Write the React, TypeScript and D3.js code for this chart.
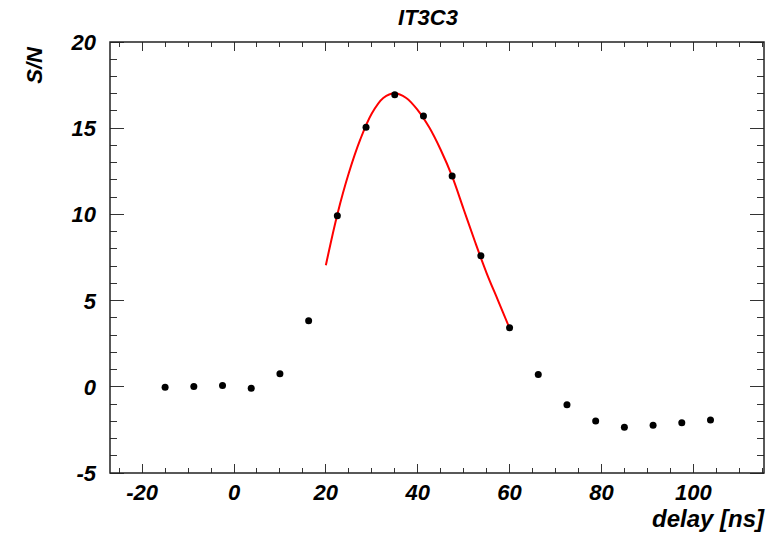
import { useEffect, useRef } from "react";
import * as d3 from "d3";

// measured points
const delays = [-15, -8.75, -2.5, 3.75, 10, 16.25, 22.5, 28.75, 35, 41.25, 47.5, 53.75, 60, 66.25, 72.5, 78.75, 85, 91.25, 97.5, 103.75];
const snValues = [-0.03, 0.02, 0.07, -0.09, 0.76, 3.83, 9.92, 15.05, 16.94, 15.71, 12.23, 7.6, 3.43, 0.72, -1.04, -1.98, -2.35, -2.23, -2.08, -1.93];

// fit curve samples
const fitX = [20, 22.5, 25, 27.5, 30, 32.5, 35, 37.5, 40, 42.5, 45, 47.5, 50, 52.5, 55, 57.5, 60];
const fitY = [7.05, 10.0, 12.4, 14.35, 15.85, 16.75, 17.03, 16.75, 16.05, 15.05, 13.75, 12.2, 10.3, 8.4, 6.6, 5.0, 3.4];

const xTicks = [-20, 0, 20, 40, 60, 80, 100];
const yTicks = [-5, 0, 5, 10, 15, 20];

export default function App() {
  const ref = useRef<SVGSVGElement>(null);

  useEffect(() => {
    const svg = d3.select(ref.current);
    svg.selectAll("*").remove();

    const width = 778;
    const height = 534;
    const m = { left: 110, right: 14, top: 42, bottom: 61 };
    const font = "'Liberation Sans', Arial, Helvetica, sans-serif";

    const x = d3.scaleLinear().domain([-27, 115.4]).range([m.left, width - m.right]);
    const y = d3.scaleLinear().domain([-5, 20]).range([height - m.bottom, m.top]);

    const x0 = x.range()[0], x1 = x.range()[1];
    const y0 = y.range()[0], y1 = y.range()[1];

    svg.append("rect").attr("width", width).attr("height", height).attr("fill", "#fff");

    // ticks
    const xMinor = d3.range(-25, 116, 5);
    const yMinor = d3.range(-5, 20.01, 1);
    const g = svg.append("g").attr("stroke", "#333").attr("stroke-width", 1).attr("shape-rendering", "crispEdges");

    xMinor.forEach(v => {
      const major = v % 20 === 0;
      const len = major ? 9 : 5;
      g.append("line").attr("x1", x(v)).attr("x2", x(v)).attr("y1", y0).attr("y2", y0 - len);
      g.append("line").attr("x1", x(v)).attr("x2", x(v)).attr("y1", y1).attr("y2", y1 + len);
    });
    yMinor.forEach(v => {
      const major = Math.round(v) % 5 === 0;
      const len = major ? 14 : 7;
      g.append("line").attr("y1", y(v)).attr("y2", y(v)).attr("x1", x0).attr("x2", x0 + len);
      g.append("line").attr("y1", y(v)).attr("y2", y(v)).attr("x1", x1).attr("x2", x1 - len);
    });

    // frame
    svg.append("rect")
      .attr("x", x0).attr("y", y1)
      .attr("width", x1 - x0).attr("height", y0 - y1)
      .attr("fill", "none").attr("stroke", "#222").attr("stroke-width", 1.5);

    const bi = (sel: any, size: number) =>
      sel.attr("font-family", font).attr("font-weight", "bold").attr("font-style", "italic")
        .attr("font-size", size).attr("fill", "#000");

    // tick labels
    bi(svg.append("g").selectAll("text").data(xTicks).join("text")
      .attr("x", d => x(d)).attr("y", 500)
      .attr("text-anchor", "middle"), 22)
      .text(d => d);

    bi(svg.append("g").selectAll("text").data(yTicks).join("text")
      .attr("x", 96).attr("y", d => y(d) + 8)
      .attr("text-anchor", "end"), 22)
      .text(d => d);

    // titles
    bi(svg.append("text").attr("x", 428).attr("y", 25).attr("text-anchor", "middle"), 22).text("IT3C3");

    bi(svg.append("text").attr("x", 764).attr("y", 527).attr("text-anchor", "end"), 24).text("delay [ns]");

    bi(svg.append("text").attr("transform", "translate(42,47) rotate(-90)").attr("text-anchor", "end"), 22).text("S/N");

    // fit curve
    const line = d3.line<number>()
      .x((_, i) => x(fitX[i]))
      .y(d => y(d))
      .curve(d3.curveCatmullRom);
    svg.append("path").datum(fitY).attr("d", line)
      .attr("fill", "none").attr("stroke", "#ff0000").attr("stroke-width", 2);

    // points
    svg.append("g").selectAll("circle").data(snValues).join("circle")
      .attr("cx", (_, i) => x(delays[i])).attr("cy", d => y(d))
      .attr("r", 3.5).attr("fill", "#000");
  }, []);

  return (
    <svg ref={ref} width={778} height={534} style={{ position: "absolute", left: 0, top: 0 }} />
  );
}
